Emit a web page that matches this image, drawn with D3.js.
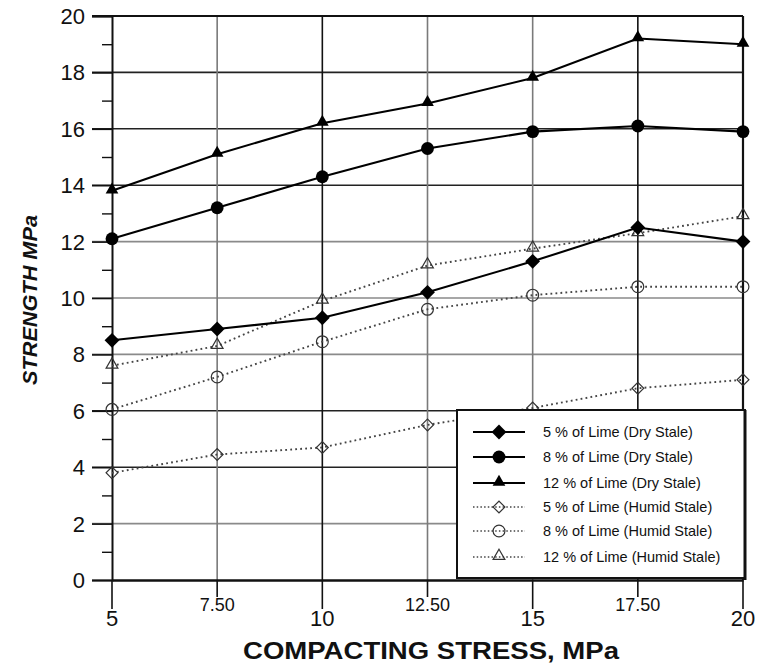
<!DOCTYPE html>
<html>
<head>
<meta charset="utf-8">
<script src="https://cdn.jsdelivr.net/npm/d3@7"></script>
<style>
  body { margin: 0; background: #fff; }
  svg { display: block; }
  .tick-lbl { font-family: "Liberation Sans Narrow", "Arial Narrow", "Liberation Sans", Arial, sans-serif; fill: #111; }
  .legend-lbl { font-family: "Liberation Sans Narrow", "Arial Narrow", "Liberation Sans", Arial, sans-serif; font-size: 14.5px; fill: #111; }
</style>
</head>
<body>
<div id="chart"></div>
<script>
// compacting stress (MPa) on x
const stress = [5, 7.5, 10, 12.5, 15, 17.5, 20];

// strength values (MPa)
const dry5 = [8.5, 8.9, 9.3, 10.2, 11.3, 12.5, 12.0];
const dry8 = [12.1, 13.2, 14.3, 15.3, 15.9, 16.1, 15.9];
const dry12 = [13.8, 15.1, 16.2, 16.9, 17.8, 19.2, 19.0];
const humid5 = [3.8, 4.45, 4.7, 5.5, 6.1, 6.8, 7.1];
const humid8 = [6.05, 7.2, 8.45, 9.6, 10.1, 10.4, 10.4];
const humid12 = [7.6, 8.3, 9.9, 11.15, 11.75, 12.3, 12.9];

const seriesNames = [
  "5 % of Lime (Dry Stale)",
  "8 % of Lime (Dry Stale)",
  "12 % of Lime (Dry Stale)",
  "5 % of Lime (Humid Stale)",
  "8 % of Lime (Humid Stale)",
  "12 % of Lime (Humid Stale)"
];

const xTicks = [5, 7.5, 10, 12.5, 15, 17.5, 20];
const xTickLabels = ["5", "7.50", "10", "12.50", "15", "17.50", "20"];
const yTicks = [0, 2, 4, 6, 8, 10, 12, 14, 16, 18, 20];

const width = 758, height = 664;
const margin = {top: 16, right: 15, bottom: 84, left: 112};

const svg = d3.select("#chart").append("svg")
  .attr("width", width)
  .attr("height", height);

const x = d3.scaleLinear().domain([5, 20]).range([margin.left, width - margin.right]);
const y = d3.scaleLinear().domain([0, 20]).range([height - margin.bottom, margin.top]);

// grid lines - some scanned darker than others
const darkY = new Set([18, 16, 14, 6, 4]);
const darkX = new Set([10, 17.5]);

svg.append("g").selectAll("line")
  .data(yTicks.filter(d => d > 0 && d < 20))
  .join("line")
  .attr("x1", x(5) - 20).attr("x2", x(20))
  .attr("y1", d => y(d)).attr("y2", d => y(d))
  .attr("stroke", d => darkY.has(d) ? "#222" : "#8a8a8a")
  .attr("stroke-width", 1.6);

svg.append("g").selectAll("line")
  .data(xTicks.filter(d => d > 5 && d < 20))
  .join("line")
  .attr("x1", d => x(d)).attr("x2", d => x(d))
  .attr("y1", y(20)).attr("y2", y(0))
  .attr("stroke", d => darkX.has(d) ? "#111" : "#7a7a7a")
  .attr("stroke-width", 1.6);

// frame
svg.append("line").attr("x1", x(5) - 20).attr("x2", x(20)).attr("y1", y(20)).attr("y2", y(20))
  .attr("stroke", "#111").attr("stroke-width", 1.8);
svg.append("line").attr("x1", x(20)).attr("x2", x(20)).attr("y1", y(20)).attr("y2", y(0))
  .attr("stroke", "#111").attr("stroke-width", 2.2);

// y axis
const yAxis = svg.append("g").attr("transform", `translate(${x(5)},0)`)
  .call(d3.axisLeft(y).tickValues(yTicks).tickSize(20).tickFormat(""));
yAxis.select(".domain").attr("stroke", "#111").attr("stroke-width", 2);
yAxis.selectAll(".tick line").attr("stroke", "#111").attr("stroke-width", 1.6);
svg.append("g").attr("transform", `translate(${x(5)},0)`)
  .call(d3.axisLeft(y).tickValues(d3.range(1, 20, 2)).tickSize(10).tickFormat(""))
  .call(g => g.select(".domain").remove())
  .selectAll(".tick line").attr("stroke", "#111").attr("stroke-width", 1.4);

svg.append("g").selectAll("text")
  .data(yTicks)
  .join("text")
  .attr("class", "tick-lbl")
  .attr("x", 85)
  .attr("y", d => y(d))
  .attr("dy", "0.36em")
  .attr("text-anchor", "end")
  .style("font-size", "22px")
  .text(d => d);

// x axis
const xAxis = svg.append("g").attr("transform", `translate(0,${y(0)})`)
  .call(d3.axisBottom(x).tickValues(xTicks).tickSize(0).tickFormat(""));
xAxis.select(".domain").attr("stroke", "#111").attr("stroke-width", 2.6);
svg.append("g").selectAll("line")
  .data(xTicks)
  .join("line")
  .attr("x1", d => x(d)).attr("x2", d => x(d))
  .attr("y1", y(0)).attr("y2", (d, i) => y(0) + (i % 2 === 0 ? 29 : 17))
  .attr("stroke", "#111").attr("stroke-width", 1.6);

svg.append("g").selectAll("text")
  .data(xTicks)
  .join("text")
  .attr("class", "tick-lbl")
  .attr("x", d => x(d))
  .attr("y", (d, i) => i % 2 === 0 ? y(0) + 46 : y(0) + 31)
  .attr("text-anchor", "middle")
  .style("font-size", (d, i) => i % 2 === 0 ? "22px" : "18px")
  .text((d, i) => xTickLabels[i]);

// axis titles
svg.append("text")
  .attr("x", 431).attr("y", 659)
  .attr("text-anchor", "middle")
  .attr("textLength", 376).attr("lengthAdjust", "spacingAndGlyphs")
  .style("font-family", "'Liberation Sans', Arial, sans-serif")
  .style("font-weight", "bold").style("font-size", "23px")
  .attr("fill", "#111")
  .text("COMPACTING STRESS, MPa");

svg.append("text")
  .attr("transform", "translate(37,300) rotate(-90)")
  .attr("text-anchor", "middle")
  .attr("textLength", 170).attr("lengthAdjust", "spacingAndGlyphs")
  .style("font-family", "'Liberation Sans', Arial, sans-serif")
  .style("font-weight", "bold").style("font-style", "italic").style("font-size", "20px")
  .attr("fill", "#111")
  .text("STRENGTH MPa");

// series
const series = [
  {name: seriesNames[0], values: dry5, dry: true, shape: "diamond"},
  {name: seriesNames[1], values: dry8, dry: true, shape: "circle"},
  {name: seriesNames[2], values: dry12, dry: true, shape: "triangle"},
  {name: seriesNames[3], values: humid5, dry: false, shape: "diamond"},
  {name: seriesNames[4], values: humid8, dry: false, shape: "circle"},
  {name: seriesNames[5], values: humid12, dry: false, shape: "triangle"}
];

const symbolPath = {
  diamond: (dry) => d3.symbol(d3.symbolSquare, dry ? 110 : 70)(),
  circle: (dry) => d3.symbol(d3.symbolCircle, dry ? 130 : 110)(),
  triangle: (dry) => d3.symbol(d3.symbolTriangle, dry ? 70 : 60)()
};

function drawMarker(g, s, cx, cy) {
  const p = g.append("path")
    .attr("d", symbolPath[s.shape](s.dry))
    .attr("transform", `translate(${cx},${cy})` + (s.shape === "diamond" ? " rotate(45)" : "") +
      (s.shape === "triangle" ? " translate(0,-1)" : ""));
  if (s.dry) p.attr("fill", "#000");
  else p.attr("fill", "none").attr("stroke", "#333").attr("stroke-width", 1.2);
}

const line = d3.line().x((d, i) => x(stress[i])).y(d => y(d));

// humid first, dry on top
[...series].reverse().forEach(s => {
  const g = svg.append("g");
  g.append("path")
    .attr("d", line(s.values))
    .attr("fill", "none")
    .attr("stroke", s.dry ? "#000" : "#444")
    .attr("stroke-width", s.dry ? 2.1 : 1.9)
    .attr("stroke-dasharray", s.dry ? null : "1.8,3.2");
  s.values.forEach((v, i) => drawMarker(g, s, x(stress[i]), y(v)));
});

// legend
const lg = svg.append("g");
lg.append("rect")
  .attr("x", 457).attr("y", 410).attr("width", 288).attr("height", 168)
  .attr("fill", "#fff").attr("stroke", "#111").attr("stroke-width", 2);
lg.append("line").attr("x1", 745).attr("x2", 745).attr("y1", 410).attr("y2", 580)
  .attr("stroke", "#111").attr("stroke-width", 3);

const rowY = [432, 457, 483, 507, 531, 557];
series.forEach((s, i) => {
  const g = lg.append("g");
  g.append("line")
    .attr("x1", 473).attr("x2", 525).attr("y1", rowY[i]).attr("y2", rowY[i])
    .attr("stroke", s.dry ? "#000" : "#444")
    .attr("stroke-width", s.dry ? 2.2 : 1.5)
    .attr("stroke-dasharray", s.dry ? null : "1.5,2.2");
  drawMarker(g, s, 499, rowY[i]);
  g.append("text")
    .attr("class", "legend-lbl")
    .attr("x", 543).attr("y", rowY[i]).attr("dy", "0.35em")
    .text(s.name);
});
</script>
</body>
</html>
